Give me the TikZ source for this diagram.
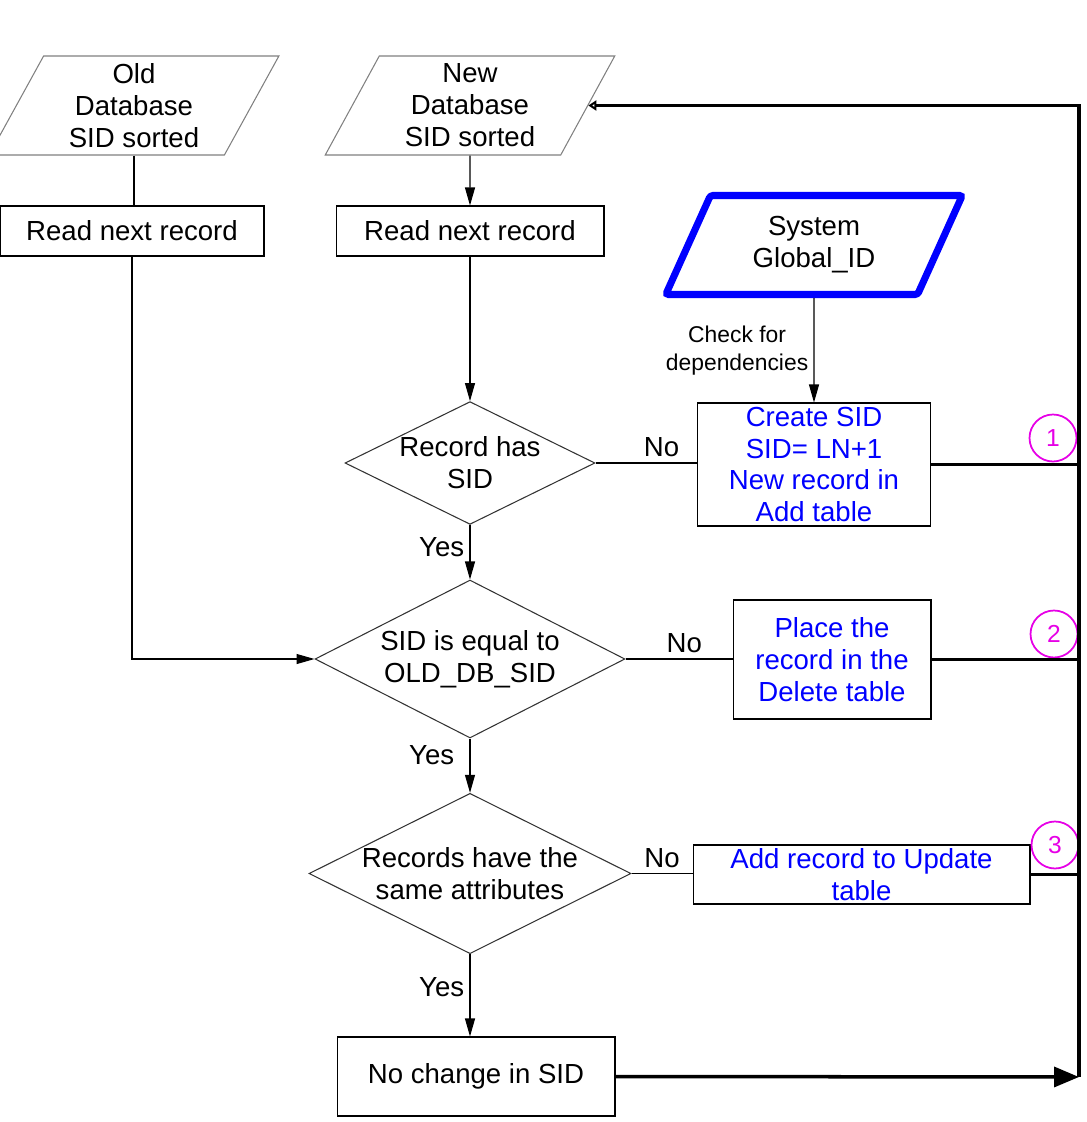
\documentclass[tikz,border=0pt]{standalone}
\usepackage{fontspec}
\setmainfont{Liberation Sans}
\usetikzlibrary{arrows.meta, shapes.geometric}
\definecolor{tagpink}{RGB}{230,0,230}

\begin{document}
\begin{tikzpicture}[x=0.02cm, y=-0.02cm, >={Triangle[length=0.36cm, width=0.2cm]}, line width=0.6pt,
  every node/.style={font=\fontsize{15.7}{18.2}\selectfont, align=center, inner sep=0pt},
  iobox/.style={trapezium, trapezium left angle=65, trapezium right angle=115, trapezium stretches=true,
    draw=gray, minimum width=5.8cm, minimum height=1.98cm},
  proc/.style={draw, minimum height=1cm},
  decision/.style={diamond, aspect=2, draw=black!80},
  lbl/.style={inner sep=3pt},
  bus/.style={line width=2pt},
  tag/.style={circle, draw=tagpink, text=tagpink, line width=1pt, minimum size=0.94cm, font=\fontsize{14}{16}\selectfont}]

  \useasboundingbox (0,0) rectangle (1087,1122);

  % Nodes
  \node (OD) [iobox] at (134,105.5) {Old\\Database\\SID sorted};
  \node (ND) [iobox] at (470,105.5) {New\\Database\\SID sorted};
  \node (RO) [proc, minimum width=5.28cm] at (132,231) {Read next record};
  \node (RN) [proc, minimum width=5.36cm] at (470,231) {Read next record};
  \node (GID) [iobox, draw=blue, line width=4pt, rounded corners=1.5pt, minimum width=5.94cm] at (814,245) {System\\Global\_ID};
  \node (HS) [decision, minimum width=5cm, minimum height=2.4cm] at (470,463) {Record has\\SID};
  \node (CR) [proc, text=blue, minimum width=4.66cm, minimum height=2.46cm] at (814,464.5) {Create SID\\SID= LN+1\\New record in\\Add table};
  \node (EQ) [decision, minimum width=6.2cm, minimum height=3.16cm] at (470,659) {SID is equal to\\OLD\_DB\_SID};
  \node (DL) [proc, text=blue, minimum width=3.96cm, minimum height=2.38cm] at (832,659.5) {Place the\\record in the\\Delete table};
  \node (SA) [decision, minimum width=6.44cm, minimum height=3.14cm] at (470,873.5) {Records have the\\same attributes};
  \node (UP) [proc, text=blue, minimum width=6.74cm, minimum height=1.18cm] at (861.5,874.5) {Add record to Update\\table};
  \node (NC) [proc, minimum width=5.56cm, minimum height=1.58cm] at (476,1076.5) {No change in SID};
  \node (T1) [tag] at (1053,438) {1};
  \node (T2) [tag] at (1054,634) {2};
  \node (T3) [tag] at (1055,845) {3};
  \coordinate (B) at (1079,1077);

  % Edges
  \draw (OD.south) -- (OD.south |- RO.north);
  \draw[->] (ND.south) -- (RN.north);
  \draw[->] (RN.south) -- (HS.north);
  \draw[->] (GID.south) -- node[lbl, left, font=\fontsize{13}{16}\selectfont] {Check for\\dependencies} (CR.north);
  \draw (HS.east) -- node[lbl, above, pos=0.65] {No} (HS.east -| CR.west);
  \draw[->] (HS.south) -- node[lbl, left, pos=0.4] {Yes} (EQ.north);
  \draw[->] (RO.south) |- (EQ.west);
  \draw (EQ.east) -- node[lbl, above, pos=0.55] {No} (EQ.east -| DL.west);
  \draw[->] (EQ.south) -- node[lbl, left, pos=0.3, xshift=-0.2cm] {Yes} (SA.north);
  \draw (SA.east) -- node[lbl, above] {No} (SA.east -| UP.west);
  \draw[->] (SA.south) -- node[lbl, left, pos=0.4] {Yes} (SA.south |- NC.north);
  \draw[bus] (CR.east) -- (CR.east -| B);
  \draw[bus] (DL.east) -- (DL.east -| B);
  \draw[bus] (UP.east) -- (UP.east -| B);
  \draw[bus, -{Triangle[length=0.5cm, width=0.4cm]}] (NC.east) -- (B);
  \draw[bus, -{Triangle[open, length=0.16cm, width=0.2cm]}] (B) -- (B |- ND.east) -- (ND.east);

\end{tikzpicture}
\end{document}
